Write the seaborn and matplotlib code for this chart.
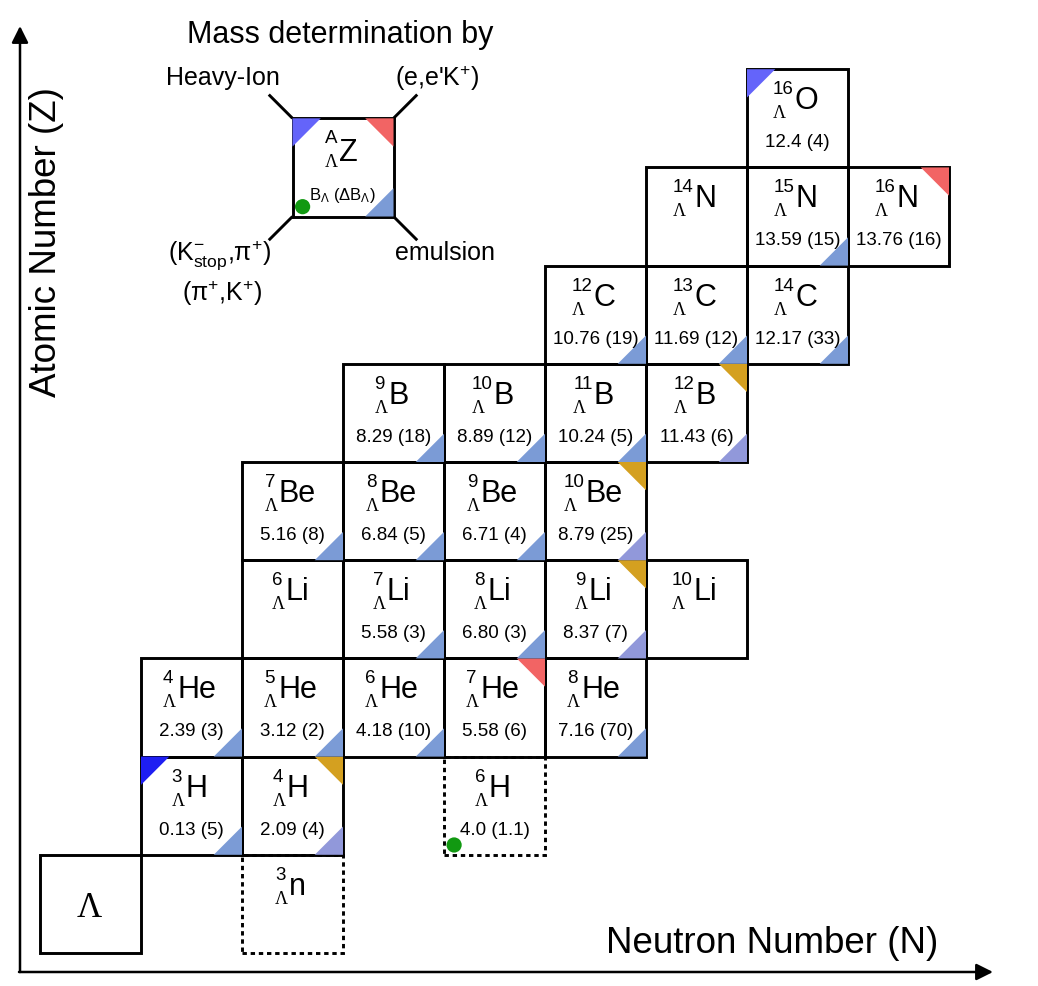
import numpy as np
import pandas as pd
import matplotlib
matplotlib.use("Agg")
import matplotlib.pyplot as plt
from matplotlib.patches import Rectangle, Polygon
import seaborn as sns

# ---------------- data ----------------
symbols      = ["n", "H", "H", "H", "He", "He", "He", "He", "He",
                "Li", "Li", "Li", "Li", "Li", "Be", "Be", "Be", "Be",
                "B", "B", "B", "B", "C", "C", "C", "N", "N", "N", "O"]
mass_numbers = [3, 3, 4, 6, 4, 5, 6, 7, 8,
                6, 7, 8, 9, 10, 7, 8, 9, 10,
                9, 10, 11, 12, 12, 13, 14, 14, 15, 16, 16]
neutrons     = [2, 1, 2, 4, 1, 2, 3, 4, 5,
                2, 3, 4, 5, 6, 2, 3, 4, 5,
                3, 4, 5, 6, 5, 6, 7, 6, 7, 8, 7]
protons      = [0, 1, 1, 1, 2, 2, 2, 2, 2,
                3, 3, 3, 3, 3, 4, 4, 4, 4,
                5, 5, 5, 5, 6, 6, 6, 7, 7, 7, 8]
binding      = ["", "0.13 (5)", "2.09 (4)", "4.0 (1.1)", "2.39 (3)", "3.12 (2)",
                "4.18 (10)", "5.58 (6)", "7.16 (70)",
                "", "5.58 (3)", "6.80 (3)", "8.37 (7)", "",
                "5.16 (8)", "6.84 (5)", "6.71 (4)", "8.79 (25)",
                "8.29 (18)", "8.89 (12)", "10.24 (5)", "11.43 (6)",
                "10.76 (19)", "11.69 (12)", "12.17 (33)",
                "", "13.59 (15)", "13.76 (16)", "12.4 (4)"]
top_left     = ["", "HIdark", "", "", "", "", "", "", "",
                "", "", "", "", "", "", "", "", "",
                "", "", "", "", "", "", "", "", "", "", "HI"]
top_right    = ["", "", "gold", "", "", "", "", "eeK", "",
                "", "", "", "gold", "", "", "", "", "gold",
                "", "", "", "gold", "", "", "", "", "", "eeK", ""]
bottom_right = ["", "em", "em2", "", "em", "em", "em", "", "em",
                "", "em", "em", "em2", "", "em", "em", "em", "em2",
                "em", "em", "em", "em2", "em", "em", "em", "", "em", "", ""]
bottom_left  = ["", "", "", "Kstop", "", "", "", "", "",
                "", "", "", "", "", "", "", "", "",
                "", "", "", "", "", "", "", "", "", "", ""]
dashed       = [True, False, False, True, False, False, False, False, False,
                False, False, False, False, False, False, False, False, False,
                False, False, False, False, False, False, False, False, False, False, False]

method_colors = {"HI": "#6464fa", "HIdark": "#1e1ef2", "eeK": "#f26464",
                 "em": "#7b9bd6", "em2": "#9198da", "gold": "#d4a020",
                 "Kstop": "#119911"}

legend_labels = ["Heavy-Ion", "(e,e'K$^{+}$)", "emulsion",
                 "(K$^{-}_{\\mathrm{stop}}$,π$^{+}$)", "(π$^{+}$,K$^{+}$)"]

# ---------------- figure ----------------
sns.set_theme(style="white")
plt.rcParams['font.family'] = ['Liberation Sans', 'DejaVu Sans']
plt.rcParams['mathtext.fontset'] = 'custom'
plt.rcParams['mathtext.rm'] = 'Liberation Sans'
plt.rcParams['mathtext.it'] = 'Liberation Sans:italic'
plt.rcParams['mathtext.bf'] = 'Liberation Sans:bold'
plt.rcParams['text.color'] = 'black'

PX, PY = 101.0, 98.2   # pixels per unit
fig = plt.figure(figsize=(10.38, 9.86), dpi=100)
ax = fig.add_axes([0, 0, 1, 1])
ax.set_xlim(-40 / PX, 998 / PX)
ax.set_ylim((953 - 986) / PY, 953 / PY)
ax.axis('off')
renderer = fig.canvas.get_renderer()

TRI = 0.28
LW = 2.1


def corner_triangle(n, z, corner, color):
    s = TRI
    if corner == "tl":
        pts = [(n, z + 1), (n + s, z + 1), (n, z + 1 - s * PX / PY)]
    elif corner == "tr":
        pts = [(n + 1, z + 1), (n + 1 - s, z + 1), (n + 1, z + 1 - s * PX / PY)]
    else:  # br
        pts = [(n + 1, z), (n + 1 - s, z), (n + 1, z + s * PX / PY)]
    ax.add_patch(Polygon(pts, closed=True, facecolor=color, edgecolor='none', zorder=4))


def nuclide_label(n, z, A, sym, sym_off=40):
    top = z + 1
    cx = n + 0.5
    t_sup = ax.text(0, 0, str(A), fontsize=13.5, ha='left', va='baseline', zorder=5)
    t_lam = ax.text(0, 0, "Λ", fontsize=13, family='Liberation Serif',
                    ha='left', va='baseline', zorder=5)
    t_sym = ax.text(0, 0, sym, fontsize=22, ha='left', va='baseline', zorder=5)
    w_sup = t_sup.get_window_extent(renderer).width
    w_lam = t_lam.get_window_extent(renderer).width
    w_sym = t_sym.get_window_extent(renderer).width
    wpre = max(w_sup, w_lam)
    W = wpre + 1 + w_sym
    left = cx - (W / 2 + 2) / PX
    t_sup.set_position((left, top - 25 / PY))
    t_lam.set_position((left, top - 49 / PY))
    t_sym.set_position((left + (wpre + 1) / PX, top - sym_off / PY))


# cells
df = pd.DataFrame(dict(sym=symbols, A=mass_numbers, N=neutrons, Z=protons,
                       B=binding, tl=top_left, tr=top_right, br=bottom_right,
                       bl=bottom_left, dashed=dashed))

for _, r in df.iterrows():
    n, z = r.N, r.Z
    if r.dashed:
        ax.add_patch(Rectangle((n, z), 1, 1, fill=False, lw=LW, ec='black',
                               ls=(0, (1.5, 1.3)), zorder=2))
    else:
        ax.add_patch(Rectangle((n, z), 1, 1, fill=False, lw=LW, ec='black', zorder=3))
    if r.tl:
        corner_triangle(n, z, "tl", method_colors[r.tl])
    if r.tr:
        corner_triangle(n, z, "tr", method_colors[r.tr])
    if r.br:
        corner_triangle(n, z, "br", method_colors[r.br])
    nuclide_label(n, z, r.A, r.sym)
    if r.B:
        ax.text(n + 0.5, z + 1 - 78 / PY, r.B, fontsize=13.5, ha='center',
                va='baseline', zorder=5)

# free Lambda
ax.add_patch(Rectangle((0, 0), 1, 1, fill=False, lw=LW, ec='black', zorder=3))
ax.text(0.49, 0.367, "Λ", fontsize=25, family='Liberation Serif',
        ha='center', va='baseline')

# green dots for (K-stop, pi+) / (pi+, K+)
dots = df[df.bl != ""]
dot_x = list(dots.N + 0.1) + [2.5 + 0.1]
dot_y = list(dots.Z + 0.1) + [7.5 + 0.1]
sns.scatterplot(x=dot_x, y=dot_y, ax=ax, color=method_colors["Kstop"], s=120,
                edgecolor='none', zorder=6, legend=False)

# ---------------- legend box ----------------
lx, ly = 2.5, 7.5
ax.add_patch(Rectangle((lx, ly), 1, 1, fill=False, lw=LW, ec='black', zorder=3))
corner_triangle(lx, ly, "tl", method_colors["HI"])
corner_triangle(lx, ly, "tr", method_colors["eeK"])
corner_triangle(lx, ly, "br", method_colors["em"])
nuclide_label(lx, ly, "A", "Z", sym_off=43)
ax.text(lx + 0.49, ly + 0.21, r"B$_\Lambda$ ($\Delta$B$_\Lambda$)", fontsize=12,
        ha='center', va='center', zorder=5)
lead = 0.235
for (x0, y0, dx, dy) in [(lx, ly + 1, -1, 1), (lx + 1, ly + 1, 1, 1),
                         (lx, ly, -1, -1), (lx + 1, ly, 1, -1)]:
    ax.plot([x0, x0 + dx * lead], [y0, y0 + dy * lead * PX / PY], color='black',
            lw=LW, solid_capstyle='butt', zorder=3)

ax.text(2.97, 9.348, "Mass determination by", fontsize=22, ha='center', va='center')
ax.text(1.81, 8.91, legend_labels[0], fontsize=18, ha='center', va='center')
ax.text(3.93, 8.91, legend_labels[1], fontsize=18, ha='center', va='center')
ax.text(4.01, 7.128, legend_labels[2], fontsize=18, ha='center', va='center')
ax.text(1.78, 7.108, legend_labels[3], fontsize=18, ha='center', va='center')
ax.text(1.80, 6.721, legend_labels[4], fontsize=18, ha='center', va='center')

# ---------------- axes arrows ----------------
ox, oy = (20 - 40) / PX, (953 - 972) / PY
ax.annotate("", xy=(ox, (953 - 26) / PY), xytext=(ox, oy),
            arrowprops=dict(arrowstyle='-|>', lw=1.8, color='black',
                            mutation_scale=25, shrinkA=0, shrinkB=0))
ax.annotate("", xy=((993 - 40) / PX, oy), xytext=(ox - 0.01, oy),
            arrowprops=dict(arrowstyle='-|>', lw=1.8, color='black',
                            mutation_scale=25, shrinkA=0, shrinkB=0))
ax.text((772 - 40) / PX, 0.0, "Neutron Number (N)", fontsize=26.5,
        ha='center', va='baseline')
ax.text((47 - 40) / PX, (953 - 242) / PY, "Atomic Number (Z)", fontsize=26.5,
        ha='center', va='center', rotation=90)

fig.savefig("out.png", dpi=100, facecolor='white')
